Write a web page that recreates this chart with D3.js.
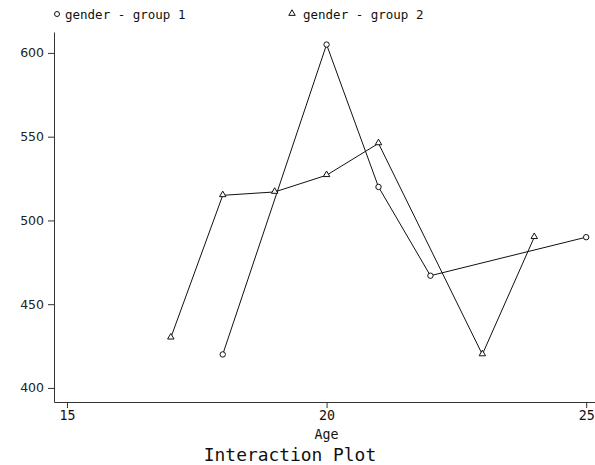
<!DOCTYPE html>
<html>
<head>
<meta charset="utf-8">
<script src="https://cdn.jsdelivr.net/npm/d3@7"></script>
<style>
  body { margin: 0; background: #fff; }
  svg { display: block; }
  .mono { font-family: "DejaVu Sans Mono", monospace; }
</style>
</head>
<body>
<svg width="595" height="465"></svg>
<script>
// values
var ages1 = [18, 20, 21, 22, 25],
    means1 = [420, 605, 520, 467, 490];
var ages2 = [17, 18, 19, 20, 21, 23, 24],
    means2 = [430, 515, 517, 527, 546, 420, 490];
var xTicks = [15, 20, 25],
    yTicks = [400, 450, 500, 550, 600];
var seriesNames = ["gender - group 1", "gender - group 2"];

var svg = d3.select("svg"),
    width = +svg.attr("width"),
    height = +svg.attr("height");

var plotL = 54, plotR = 595, plotT = 32, plotB = 402;

var x = d3.scaleLinear().domain([14.75, 25.17]).range([plotL, plotR]);
var y = d3.scaleLinear().domain([391.6, 612.5]).range([plotB, plotT]);

// y axis
var yAxis = svg.append("g")
    .attr("transform", "translate(" + plotL + ",0)")
    .call(d3.axisLeft(y).tickValues(yTicks).tickSize(6).tickPadding(4).tickSizeOuter(0));
yAxis.select(".domain").attr("stroke", "#333");
yAxis.selectAll(".tick line").attr("stroke", "#333");
yAxis.selectAll("text")
    .attr("font-family", "'DejaVu Sans', sans-serif")
    .attr("font-size", 12.5)
    .attr("fill", "#222");

// x axis
var xAxis = svg.append("g")
    .attr("transform", "translate(0," + plotB + ")")
    .call(d3.axisBottom(x).tickValues(xTicks).tickSize(6).tickPadding(3).tickSizeOuter(0));
xAxis.select(".domain").attr("stroke", "#333");
xAxis.selectAll(".tick line").attr("stroke", "#333");
xAxis.selectAll("text")
    .attr("class", "mono")
    .attr("font-size", 13.3)
    .attr("fill", "#111");

svg.append("text")
    .attr("class", "mono")
    .attr("x", x(20)).attr("y", 439)
    .attr("text-anchor", "middle")
    .attr("font-size", 13.3)
    .attr("fill", "#111")
    .text("Age");

svg.append("text")
    .attr("class", "mono")
    .attr("x", 290).attr("y", 461)
    .attr("text-anchor", "middle")
    .attr("font-size", 17.9)
    .attr("fill", "#111")
    .text("Interaction Plot");

var line = d3.line()
    .x(function (d) { return x(d[0]); })
    .y(function (d) { return y(d[1]); });

var pts1 = d3.zip(ages1, means1),
    pts2 = d3.zip(ages2, means2);

svg.append("path").datum(pts1)
    .attr("d", line).attr("fill", "none").attr("stroke", "#111").attr("stroke-width", 1);
svg.append("path").datum(pts2)
    .attr("d", line).attr("fill", "none").attr("stroke", "#111").attr("stroke-width", 1);

var tri = d3.symbol().type(d3.symbolTriangle).size(18);

svg.selectAll(".c1").data(pts1).enter().append("circle")
    .attr("cx", function (d) { return x(d[0]); })
    .attr("cy", function (d) { return y(d[1]); })
    .attr("r", 2.7)
    .attr("fill", "#fff").attr("stroke", "#111");

svg.selectAll(".t2").data(pts2).enter().append("path")
    .attr("d", tri)
    .attr("transform", function (d) { return "translate(" + x(d[0]) + "," + (y(d[1]) - 0.5) + ")"; })
    .attr("fill", "#fff").attr("stroke", "#111");

// legend
svg.append("circle").attr("cx", 57).attr("cy", 14).attr("r", 2.5)
    .attr("fill", "#fff").attr("stroke", "#111");
svg.append("text").attr("class", "mono")
    .attr("x", 65).attr("y", 19).attr("font-size", 12.5).attr("fill", "#111")
    .text(seriesNames[0]);
svg.append("path").attr("d", tri).attr("transform", "translate(292,13.5)")
    .attr("fill", "#fff").attr("stroke", "#111");
svg.append("text").attr("class", "mono")
    .attr("x", 303).attr("y", 19).attr("font-size", 12.5).attr("fill", "#111")
    .text(seriesNames[1]);
</script>
</body>
</html>
